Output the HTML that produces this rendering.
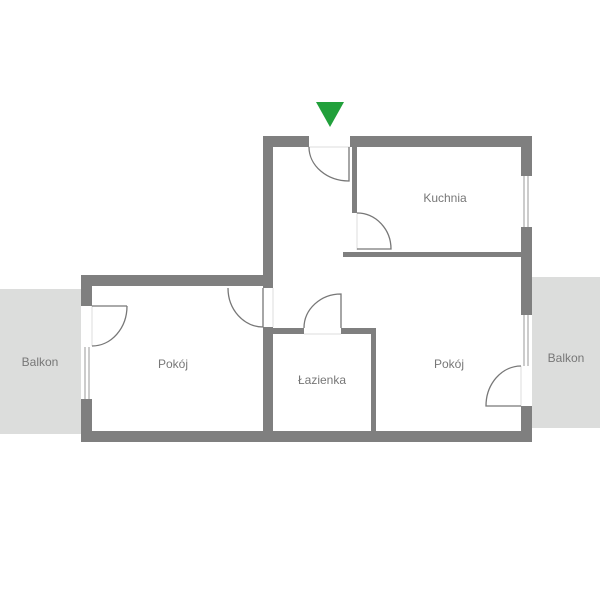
<!DOCTYPE html>
<html><head><style>body{margin:0;background:#fff}</style></head><body>
<svg width="600" height="600" viewBox="0 0 600 600" xmlns="http://www.w3.org/2000/svg" font-family="Liberation Sans, DejaVu Sans, sans-serif">
<rect width="600" height="600" fill="#fff"/>
<!-- balconies -->
<rect x="0" y="289" width="81" height="145" fill="#dcdddc"/>
<rect x="532" y="277" width="68" height="151" fill="#dcdddc"/>
<g fill="#7f7f7f">
<!-- top wall -->
<rect x="263" y="136" width="46" height="11"/>
<rect x="350" y="136" width="182" height="11"/>
<!-- hall left wall -->
<rect x="263" y="136" width="10" height="152"/>
<rect x="263" y="327" width="10" height="115"/>
<!-- left room top -->
<rect x="81" y="275" width="192" height="11"/>
<!-- left room left wall -->
<rect x="81" y="275" width="11" height="31"/>
<rect x="81" y="399" width="11" height="43"/>
<!-- bottom wall -->
<rect x="81" y="431" width="451" height="11"/>
<!-- right wall -->
<rect x="521" y="136" width="11" height="40"/>
<rect x="521" y="227" width="11" height="88"/>
<rect x="521" y="406" width="11" height="36"/>
<!-- kitchen left wall -->
<rect x="352" y="147" width="5" height="66"/>
<!-- kitchen bottom wall -->
<rect x="343" y="252" width="178" height="5"/>
<!-- bathroom -->
<rect x="273" y="328" width="31" height="6"/>
<rect x="341" y="328" width="35" height="6"/>
<rect x="371" y="328" width="5" height="103"/>
</g>
<!-- windows -->
<g stroke="#999" stroke-width="1" fill="none">
<line x1="524" y1="176" x2="524" y2="227"/><line x1="528" y1="176" x2="528" y2="227"/>
<line x1="524" y1="315" x2="524" y2="366"/><line x1="528" y1="315" x2="528" y2="366"/>
<line x1="85" y1="347" x2="85" y2="399"/><line x1="89" y1="347" x2="89" y2="399"/>
</g>
<!-- door jamb lines -->
<g stroke="#ddd" stroke-width="1" fill="none">
<line x1="309" y1="147" x2="350" y2="147"/>
<line x1="357" y1="213" x2="357" y2="250"/>
<line x1="273" y1="288" x2="273" y2="327"/>
<line x1="304" y1="334" x2="341" y2="334"/>
<line x1="92" y1="306" x2="92" y2="346"/>
<line x1="521" y1="366" x2="521" y2="406"/>
</g>
<!-- doors -->
<g stroke="#777" stroke-width="1.3" fill="none">
<path d="M309 147 A40 34 0 0 0 349 181 L349 147"/>
<path d="M357 213 A34 36 0 0 1 391 249 L357 249"/>
<path d="M228 288 A35 39 0 0 0 263 327 L263 288"/>
<path d="M304 328 A37 34 0 0 1 341 294 L341 328"/>
<path d="M127 306 A35 40 0 0 1 92 346"/>
<path d="M92 306 L127 306"/>
<path d="M521 366 A35 40 0 0 0 486 406 L521 406"/>
</g>
<!-- entry marker -->
<polygon points="316,102 344,102 330,127" fill="#21a03b"/>
<g fill="#777" font-size="12" text-anchor="middle">
<text x="445" y="202">Kuchnia</text>
<text x="173" y="368">Pokój</text>
<text x="449" y="368">Pokój</text>
<text x="322" y="384">Łazienka</text>
<text x="40" y="366">Balkon</text>
<text x="566" y="362">Balkon</text>
</g>
</svg>
</body></html>
